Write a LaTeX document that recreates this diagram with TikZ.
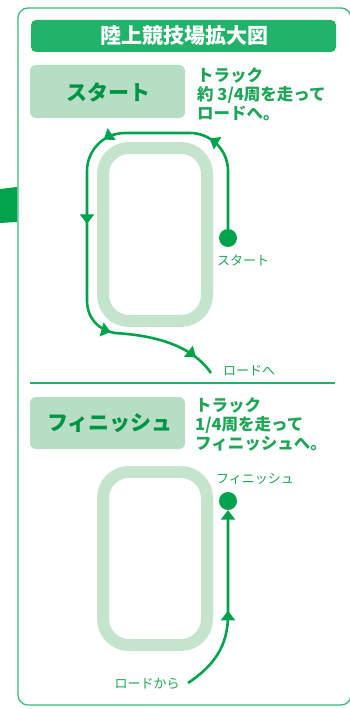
\documentclass[tikz,border=0pt]{standalone}
\usepackage{fontspec}
\setmainfont{Noto Sans CJK JP}
\usetikzlibrary{arrows.meta,decorations.markings}
\definecolor{barG}{RGB}{34,179,106}
\definecolor{lineG}{RGB}{0,163,76}
\definecolor{textG}{RGB}{30,166,86}
\definecolor{boxG}{RGB}{181,222,196}
\definecolor{trackG}{RGB}{196,228,206}
\tikzset{
	ftip/.tip={Triangle[length=9.5pt,width=14pt]},
	track/.style={draw=trackG,line width=12pt,rounded corners=26pt},
	label box/.style={fill=boxG,rounded corners=6pt},
	box text/.style={font=\fontsize{21}{21}\selectfont\bfseries,text=lineG!90!black},
	note/.style={font=\fontsize{16.5}{19}\selectfont\bfseries,text=textG,align=left,anchor=west,inner sep=0pt},
	small/.style={font=\fontsize{13}{13}\selectfont,text=textG,inner sep=0pt},
	dot/.style={circle,fill=lineG,minimum size=18pt,inner sep=0pt},
	route/.style={draw=lineG,line width=2.6pt},
}
\begin{document}
\begin{tikzpicture}[x=1pt,y=-1pt]
		\useasboundingbox (0,0) rectangle (350,709);
		\draw[barG!90!white,line width=1.3pt,rounded corners=10pt] (18,8) rectangle (351,705);
		\fill[lineG] (0,189) -- (17,187) -- (17,222) -- (0,223) -- cycle;
		\fill[barG,rounded corners=5pt] (31,20) rectangle (336,52);
		\node[text=white,font=\fontsize{21}{21}\selectfont\bfseries] (title) at (184,36) {陸上競技場拡大図};
		% start
		\fill[label box] (30,65) rectangle (185,118);
		\node[box text] (startbox) at (108,92) {スタート};
		\node[note] (startnote) at (197,94) {トラック\\約 3/4周を走って\\ロードへ。};
		\draw[track] (103,148) rectangle (207,321);
		\node[dot] (startdot) at (228,238) {};
		\node[small] (startlabel) at (243,260) {スタート};
		\node[small,anchor=west] (roadto) at (223,371) {ロードへ};
		\coordinate (roadend) at (211,373);
		\draw[route,postaction={decorate},decoration={markings,
			mark=at position 97pt with {\arrow[lineG]{ftip}},
			mark=at position 205pt with {\arrow[lineG]{ftip}},
			mark=at position 295pt with {\arrow[lineG]{ftip}},
			mark=at position -112pt with {\arrow[lineG]{ftip}},
			mark=at position -22pt with {\arrow[lineG]{ftip}}}]
			(startdot) -- (228,171) .. controls (228,150) and (211,133) .. (190,133)
			-- (125,133) .. controls (104,133) and (87,150) .. (87,171) -- (87,300)
			.. controls (87,318) and (98,330) .. (115,333)
			.. controls (165,336) and (195,350) .. (roadend);
		\draw[barG,line width=1.2pt] (30,383) -- (335,383);
		% finish
		\fill[label box] (30,397) rectangle (185,449);
		\node[box text] (finishbox) at (110,423) {フィニッシュ};
		\node[note] (finishnote) at (195,424) {トラック\\1/4周を走って\\フィニッシュへ。};
		\draw[track] (103,472) rectangle (207,645);
		\node[dot] (finishdot) at (228,501) {};
		\node[small] (finishlabel) at (255,479) {フィニッシュ};
		\node[small] (roadfrom) at (147,684) {ロードから};
		\coordinate (roadstart) at (188,683);
		\draw[route,-{ftip},postaction={decorate},decoration={markings,
			mark=at position 87pt with {\arrow[lineG]{ftip}}}]
			(roadstart) .. controls (215,665) and (228,645) .. (228,615) -- (finishdot);
	\end{tikzpicture}
\end{document}
